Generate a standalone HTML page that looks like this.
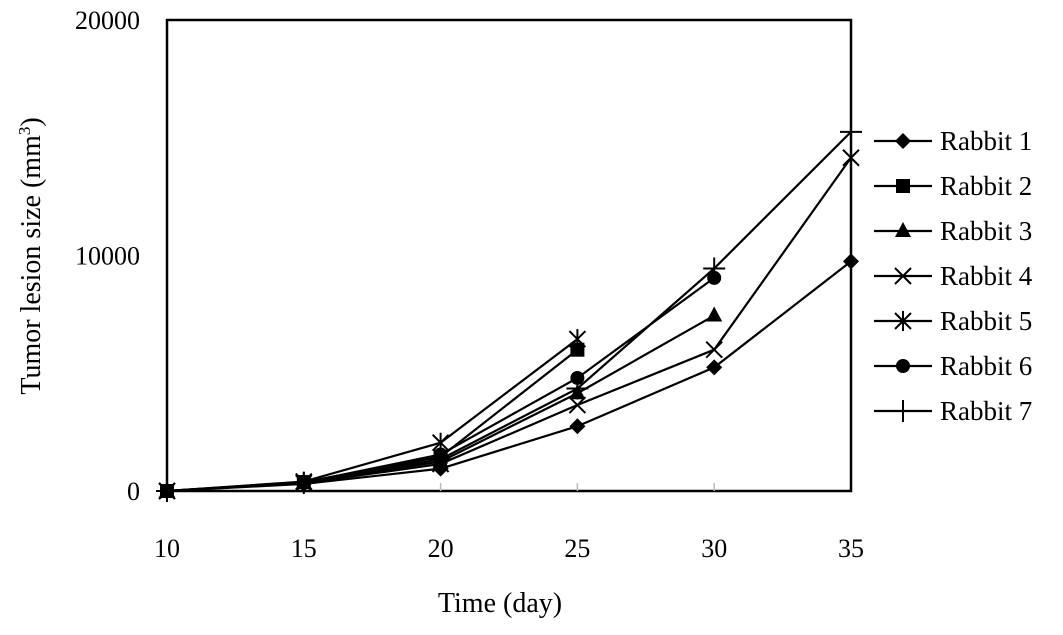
<!DOCTYPE html>
<html><head><meta charset="utf-8"><style>
body{margin:0;background:#fff;}
svg{display:block;font-family:"Liberation Serif",serif;}
</style></head><body>
<svg id="chart" width="1063" height="635">
<g id="axes"></g><g id="series"></g><g id="legend"></g>
</svg>
<script>
const days=[10,15,20,25,30,35];
const rabbit1=[0,300,950,2750,5250,9750];
const rabbit2=[0,380,1450,6000,null,null];
const rabbit3=[0,350,1250,4150,7450,null];
const rabbit4=[0,330,1150,3650,6000,14150];
const rabbit5=[0,400,2050,6450,null,null];
const rabbit6=[0,360,1550,4800,9050,null];
const rabbit7=[0,340,1350,4350,9450,15250];
const seriesNames=["Rabbit 1","Rabbit 2","Rabbit 3","Rabbit 4","Rabbit 5","Rabbit 6","Rabbit 7"];
const markers=["diamond","square","triangle","x","star","circle","plus"];
const yTicks=[0,10000,20000];
const xTicks=[10,15,20,25,30,35];
const all=[rabbit1,rabbit2,rabbit3,rabbit4,rabbit5,rabbit6,rabbit7];

const L=167,R=851,T=20,B=491;
const xs=d=>L+(d-10)/25*(R-L);
const ys=v=>B-v/20000*(B-T);
const NS="http://www.w3.org/2000/svg";
function mk(tag,attrs,parent){const e=document.createElementNS(NS,tag);for(const k in attrs)e.setAttribute(k,attrs[k]);parent.appendChild(e);return e;}
const axes=document.getElementById('axes'),sg=document.getElementById('series'),lg=document.getElementById('legend');

const frame=mk('rect',{x:L,y:T,width:R-L,height:B-T,fill:'none',stroke:'#000','stroke-width':2.5},axes);


yTicks.forEach(v=>{
  const t=mk('text',{x:140,y:ys(v)+9,'text-anchor':'end','font-size':26},axes);t.textContent=v;
  
  
});
xTicks.forEach(v=>{
  const t=mk('text',{x:xs(v),y:557,'text-anchor':'middle','font-size':26},axes);t.textContent=v;
  
  
  if(v>10&&v<35){const l=mk('line',{x1:xs(v),x2:xs(v),y1:B-8,y2:B,stroke:'#bbb','stroke-width':1.5},axes);
  
  }
});
const xt=mk('text',{x:500,y:612,'text-anchor':'middle','font-size':28},axes);xt.textContent='Time (day)';


const yt=mk('text',{x:0,y:0,'text-anchor':'middle','font-size':28,transform:'translate(40,256) rotate(-90)'},axes);
yt.innerHTML='Tumor lesion size (mm<tspan font-size="17" dy="-10">3</tspan><tspan dy="10">)</tspan>';



function marker(type,x,y,p){
  const s=8;let e;
  if(type=='diamond')e=mk('polygon',{points:`${x},${y-s} ${x+s},${y} ${x},${y+s} ${x-s},${y}`,fill:'#000'},p);
  else if(type=='square')e=mk('rect',{x:x-7,y:y-7,width:14,height:14,fill:'#000'},p);
  else if(type=='triangle')e=mk('polygon',{points:`${x},${y-9} ${x+8},${y+6} ${x-8},${y+6}`,fill:'#000'},p);
  else if(type=='circle')e=mk('circle',{cx:x,cy:y,r:7,fill:'#000'},p);
  else if(type=='x')e=mk('path',{d:`M${x-8},${y-8}L${x+8},${y+8}M${x+8},${y-8}L${x-8},${y+8}`,stroke:'#000','stroke-width':2},p);
  else if(type=='plus')e=mk('path',{d:`M${x-11},${y}L${x+11},${y}M${x},${y-11}L${x},${y+11}`,stroke:'#000','stroke-width':2},p);
  else e=mk('path',{d:`M${x-8},${y-8}L${x+8},${y+8}M${x+8},${y-8}L${x-8},${y+8}M${x},${y-10}L${x},${y+10}`,stroke:'#000','stroke-width':2},p);
  return e;
}
all.forEach((arr,i)=>{
  const g=mk('g',{},sg);
  
  
  const pts=[];arr.forEach((v,j)=>{if(v!=null)pts.push([xs(days[j]),ys(v)]);});
  mk('polyline',{points:pts.map(p=>p.join(',')).join(' '),fill:'none',stroke:'#000','stroke-width':2.2},g);
  pts.forEach(p=>{const m=marker(markers[i],p[0],p[1],g);
    
    });
  const ly=141+i*45;
  const le=mk('g',{},lg);
  
  
  mk('line',{x1:874,x2:932,y1:ly,y2:ly,stroke:'#000','stroke-width':2.2},le);
  marker(markers[i],903,ly,le);
  const t=mk('text',{x:940,y:ly+9,'font-size':27},le);t.textContent=seriesNames[i];
});
</script>
</body></html>
